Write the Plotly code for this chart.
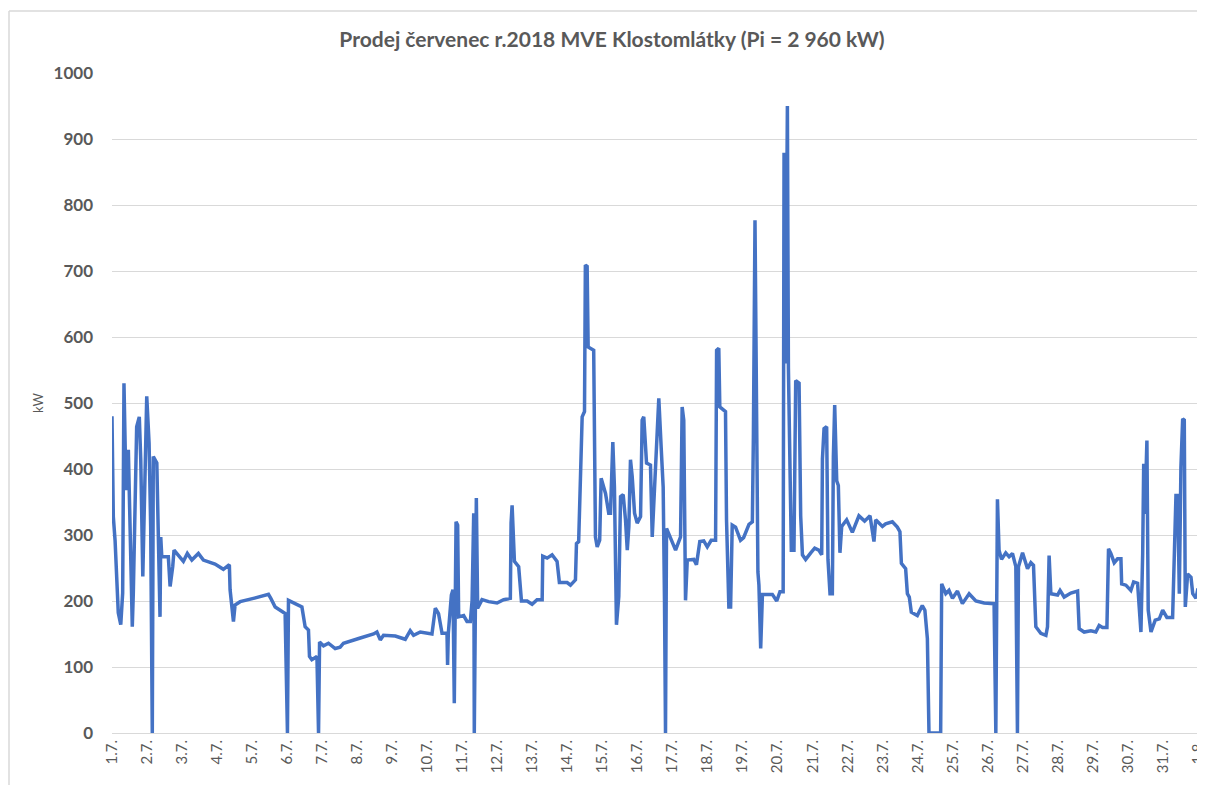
import pandas as pd
import plotly.graph_objects as go

# hours since 1.7.2018 00:00 and the power sold (kW)
hours = [0, 0.9, 2.1, 4.3, 6.0, 7.3, 8.2, 9.6, 11.2, 12.7, 13.9, 14.6, 16.3, 16.9, 18.7, 19.7,
         21.1, 22.1, 23.8, 25.4, 26.5, 27.6, 28.3, 30.7, 31.7, 32.9, 33.4, 34.1, 38.6, 39.8,
         41.6, 42.5, 48.9, 51.6, 54.7, 59.2, 62.6, 70.6, 76.3, 80.4, 80.9, 83.2, 84.3, 87.8,
         96.9, 107.2, 108.8, 111.8, 118.6, 120.2, 120.9, 125.5, 130.1, 132.3, 134.6, 135.3,
         136.9, 140.4, 141.5, 142.2, 144.9, 148.3, 152.9, 156.3, 158.6, 170.1, 179.2, 181.5,
         183.8, 186.0, 194.1, 200.9, 204.3, 206.6, 211.2, 219.2, 221.5, 223.7, 226.1, 229.5,
         229.9, 230.4, 232.5, 233.6, 234.5, 235.7, 236.8, 237.5, 240.9, 243.2, 245.5, 246.7,
         247.8, 248.2, 249.6, 250.5, 253.5, 258.0, 263.8, 268.3, 272.9, 273.4, 274.1, 275.7,
         278.6, 280.5, 284.4, 287.8, 291.2, 294.7, 295.1, 298.1, 301.5, 304.9, 306.5, 311.8,
         314.1, 317.5, 318.2, 319.7, 320.9, 322.1, 323.7, 324.3, 325.5, 326.2, 330.0, 331.2,
         332.4, 334.1, 335.1, 338.1, 340.3, 341.5, 343.1, 344.2, 345.6, 347.2, 348.4, 350.2,
         351.8, 353.0, 354.1, 355.2, 356.4, 358.0, 359.8, 362.1, 363.2, 364.3, 366.2, 368.9,
         370.1, 371.2, 372.8, 374.6, 376.2, 377.6, 378.5, 379.2, 379.9, 382.6, 386.1, 389.5,
         390.6, 391.7, 392.4, 392.9, 394.1, 398.6, 400.4, 402.7, 405.4, 407.8, 410.5, 413.5,
         414.2, 415.7, 416.4, 420.3, 421.0, 422.6, 423.8, 424.9, 427.2, 430.6, 432.7, 436.4,
         438.7, 439.4, 440.5, 441.7, 442.5, 443.2, 444.4, 445.6, 452.4, 455.4, 457.6, 459.8,
         460.4, 461.5, 462.7, 463.4, 464.5, 465.4, 467.2, 468.4, 470.7, 471.8, 473.0, 475.2,
         478.7, 481.4, 484.2, 486.2, 486.7, 487.8, 489.6, 490.5, 491.9, 493.5, 494.2, 495.1,
         496.5, 497.6, 498.7, 499.9, 503.3, 507.2, 511.7, 515.6, 519.3, 522.0, 523.2, 527.8,
         530.0, 534.6, 538.0, 539.8, 540.8, 543.7, 544.9, 546.2, 547.6, 551.7, 555.1, 556.9,
         558.6, 559.7, 567.7, 568.4, 571.2, 573.4, 575.8, 579.2, 582.6, 587.2, 591.8, 597.5,
         604.3, 605.5, 606.6, 607.7, 609.4, 612.3, 614.6, 616.9, 619.2, 620.3, 621.0, 623.8,
         627.2, 629.5, 631.3, 632.9, 636.3, 639.8, 640.9, 642.0, 643.2, 647.8, 649.5, 652.3,
         656.9, 661.5, 662.6, 666.0, 670.6, 674.0, 676.3, 678.6, 681.6, 682.7, 684.3, 686.6,
         688.9, 691.2, 691.7, 694.6, 698.0, 699.9, 702.6, 703.7, 704.9, 706.1, 706.8, 707.6,
         709.0, 709.9, 711.8, 714.7, 717.5, 719.8, 722.7, 726.6, 727.7, 728.9, 730.1, 731.2,
         732.3, 733.5, 734.6, 735.3, 736.9, 739.2, 740.4, 742.6, 744.0]
kw = [480, 328, 292, 182, 164, 212, 530, 368, 429, 282, 161, 212, 363, 464, 479, 414,
      237, 363, 510, 439, 313, 0, 419, 409, 272, 176, 297, 267, 267, 222,
      252, 277, 260, 272, 262, 272, 262, 256, 248, 255, 217, 169, 194, 199,
      204, 210, 204, 191, 181, 0, 201, 196, 191, 161, 156, 116,
      111, 116, 0, 138, 132, 136, 128, 130, 136, 144, 150, 153,
      141, 148, 147, 142, 155, 148, 153, 150, 189, 181, 151, 151,
      103, 151, 209, 217, 45, 320, 315, 176, 178, 169, 169, 201,
      333, 0, 356, 189, 202, 199, 197, 202, 204, 318, 345, 260,
      252, 200, 200, 195, 202, 202, 268, 265, 270, 260, 228, 228,
      224, 232, 287, 290, 393, 479, 487, 709, 707, 585, 580, 297,
      282, 292, 386, 363, 333, 333, 441, 373, 164, 207, 358, 361,
      323, 277, 313, 414, 388, 333, 318, 328, 474, 479, 409, 406,
      297, 348, 398, 507, 434, 373, 201, 0, 310, 297, 277, 297,
      494, 474, 323, 201, 262, 263, 255, 290, 291, 282, 292, 292,
      580, 583, 494, 487, 323, 191, 191, 315, 312, 292, 296, 316,
      320, 448, 777, 428, 244, 224, 128, 210, 210, 200, 214, 214,
      879, 560, 950, 553, 383, 277, 277, 534, 530, 329, 270, 263,
      273, 280, 277, 270, 415, 461, 464, 263, 211, 211, 418, 497,
      382, 375, 273, 313, 323, 304, 329, 321, 329, 290, 323, 313,
      317, 320, 312, 305, 257, 249, 211, 206, 183, 178, 193, 186,
      143, 0, 0, 226, 211, 216, 204, 215, 196, 211, 200, 197,
      196, 0, 354, 277, 263, 273, 267, 272, 252, 0, 252, 273,
      249, 258, 254, 161, 151, 148, 161, 269, 211, 209, 216, 206,
      212, 215, 158, 153, 155, 153, 163, 160, 160, 279, 272, 258,
      264, 264, 226, 224, 216, 229, 227, 181, 153, 272, 408, 332,
      443, 186, 153, 171, 173, 186, 175, 175, 277, 360, 360, 211,
      403, 476, 474, 191, 241, 236, 211, 204, 219]

day_ticks = pd.date_range("2018-07-01", "2018-08-01", freq="D")
day_labels = ["{}.{}.".format(d.day, d.month) for d in day_ticks]

grey = "#595959"
frame = "#d9d9d9"
# the page puts the plot 8px in from the top-left corner, so the figure is 8px smaller
width = 1197
height = 777
ml, mr, mt, mb = 104, 7, 65, 52

times = pd.Timestamp("2018-07-01") + pd.to_timedelta(hours, unit="h")

fig = go.Figure()
fig.add_trace(go.Scatter(x=times, y=kw, mode="lines",
                         line=dict(color="#4472C4", width=3.5),
                         showlegend=False))

fig.update_layout(
    width=width, height=height,
    margin=dict(l=ml, r=mr, t=mt, b=mb, autoexpand=False),
    paper_bgcolor="white", plot_bgcolor="white",
    font=dict(family="Lato", color=grey),
    title=dict(text="<b>Prodej červenec r.2018 MVE Klostomlátky (Pi = 2 960 kW)</b>",
               x=604 / width, xanchor="center", y=1 - 32 / height, yanchor="middle",
               font=dict(size=21, color=grey)),
)
fig.update_yaxes(range=[0, 1000], dtick=100, showgrid=True, gridcolor=frame,
                 gridwidth=1, zeroline=False, showline=False, automargin=False,
                 tickfont=dict(size=17, color=grey, family="Lato", weight="bold"),
                 ticklabelstandoff=18,
                 title=dict(text="kW", font=dict(size=13, color=grey), standoff=6))
fig.update_xaxes(range=[day_ticks[0], day_ticks[-1]], tickvals=day_ticks, ticktext=day_labels,
                 tickangle=-90, showgrid=False, zeroline=False, automargin=False,
                 showline=True, linecolor=frame, linewidth=1,
                 ticks="outside", ticklen=0, ticklabeloverflow="allow",
                 tickfont=dict(size=15, color=grey))

# chart frame: only its top and left edges fall inside the picture
pw = width - ml - mr
ph = height - mt - mb
fx0 = -(ml - 1) / pw
fy1 = 1 + (mt - 3) / ph
fig.add_shape(type="line", xref="paper", yref="paper", x0=fx0, x1=fx0, y0=-mb / ph, y1=fy1,
              line=dict(color=frame, width=1.5), layer="below")
fig.add_shape(type="line", xref="paper", yref="paper", x0=fx0, x1=1 + mr / pw, y0=fy1, y1=fy1,
              line=dict(color=frame, width=1.5), layer="below")

fig.write_html("out.html")
